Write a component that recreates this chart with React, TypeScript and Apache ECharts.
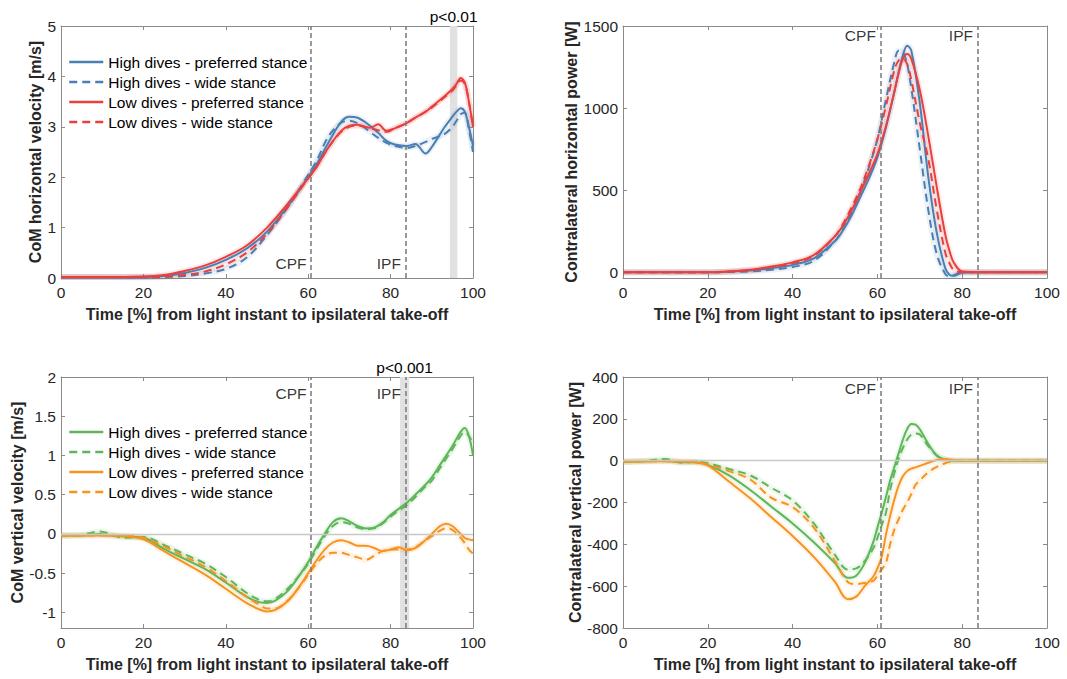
import React, { useEffect, useRef } from "react";
import * as echarts from "echarts";

// ---------- event markers ----------
const CPF = 60.7;
const IPF = 83.6;
const SIG_TOP = [94.4, 96.2];
const SIG_BOTTOM = [82.3, 84.5];

// ---------- CoM horizontal velocity ----------
const TL_T = [0, 10, 20, 25, 30, 35, 40, 45, 50, 55, 60, 62, 65, 68, 70, 72, 75, 77, 79, 81, 84, 86, 88.5, 90, 93, 95, 96, 97, 98, 99, 100];
const HV_HIGH_PREF = [0.02, 0.02, 0.02, 0.04, 0.1, 0.2, 0.36, 0.58, 0.92, 1.42, 2.0, 2.25, 2.7, 3.1, 3.2, 3.18, 3.02, 2.88, 2.72, 2.65, 2.62, 2.66, 2.47, 2.6, 2.98, 3.2, 3.3, 3.37, 3.3, 3.0, 2.62];
const HV_HIGH_WIDE = [0.02, 0.02, 0.01, 0.02, 0.04, 0.09, 0.18, 0.4, 0.85, 1.4, 2.05, 2.32, 2.82, 3.08, 3.12, 3.07, 2.9, 2.78, 2.68, 2.62, 2.58, 2.62, 2.7, 2.76, 2.85, 3.0, 3.12, 3.25, 3.28, 2.95, 2.5];
const HV_LOW_PREF = [0.02, 0.02, 0.03, 0.06, 0.14, 0.25, 0.42, 0.64, 1.0, 1.47, 1.98, 2.2, 2.6, 2.92, 3.02, 3.04, 2.98, 3.05, 2.92, 2.97, 3.08, 3.18, 3.3, 3.4, 3.6, 3.75, 3.85, 3.97, 3.88, 3.5, 3.0];
const HV_LOW_WIDE = [0.02, 0.02, 0.02, 0.03, 0.06, 0.13, 0.27, 0.5, 0.88, 1.4, 1.98, 2.2, 2.6, 2.9, 3.0, 3.02, 2.97, 2.93, 2.9, 2.97, 3.08, 3.18, 3.3, 3.38, 3.58, 3.72, 3.82, 3.92, 3.85, 3.5, 3.0];
const TL_Y_TICKS = [0, 1, 2, 3, 4, 5];

// ---------- Contralateral horizontal power ----------
const TR_T = [0, 10, 20, 25, 30, 35, 40, 45, 50, 52, 54, 56, 58, 60, 62, 64, 65, 66, 67, 68, 70, 72, 74, 76, 77, 78, 80, 85, 100];
const HP_HIGH_PREF = [0, 0, 0, 3, 10, 25, 45, 85, 190, 260, 350, 460, 570, 700, 880, 1100, 1220, 1320, 1380, 1350, 1030, 580, 240, 25, -15, -22, -3, 0, 0];
const HP_HIGH_WIDE = [0, 0, 0, 2, 5, 15, 32, 70, 190, 270, 370, 490, 640, 810, 1050, 1280, 1350, 1340, 1270, 1120, 750, 380, 110, -10, -25, -18, 0, 0, 0];
const HP_LOW_PREF = [0, 0, 0, 5, 15, 35, 60, 105, 220, 290, 380, 490, 600, 720, 890, 1100, 1210, 1300, 1330, 1300, 1110, 830, 520, 230, 130, 60, 5, 0, 0];
const HP_LOW_WIDE = [0, 0, 0, 4, 12, 30, 55, 100, 220, 300, 400, 510, 650, 810, 1010, 1230, 1290, 1300, 1270, 1170, 910, 690, 380, 120, 55, 15, 0, 0, 0];
const TR_Y_TICKS = [0, 500, 1000, 1500];

// ---------- CoM vertical velocity ----------
const BL_T = [0, 5, 9.5, 12, 15, 20, 25, 30, 35, 40, 45, 48, 50, 52, 55, 58, 60, 62, 64, 66, 68, 70, 72, 74, 76, 78, 80, 82, 84, 86, 88, 90, 92, 93.5, 95, 97, 98, 99, 100];
const VV_HIGH_PREF = [-0.02, -0.02, 0.0, -0.02, -0.03, -0.05, -0.19, -0.32, -0.45, -0.62, -0.8, -0.87, -0.88, -0.85, -0.73, -0.52, -0.36, -0.17, 0.0, 0.15, 0.2, 0.16, 0.1, 0.07, 0.08, 0.14, 0.24, 0.32, 0.4, 0.5, 0.6, 0.72, 0.88, 1.0, 1.12, 1.3, 1.35, 1.25, 1.0];
const VV_HIGH_WIDE = [-0.02, -0.01, 0.03, 0.0, -0.05, -0.04, -0.14, -0.26, -0.38, -0.55, -0.75, -0.84, -0.86, -0.83, -0.7, -0.52, -0.38, -0.2, -0.03, 0.1, 0.15, 0.13, 0.08, 0.06, 0.07, 0.13, 0.22, 0.3, 0.37, 0.47, 0.58, 0.68, 0.84, 0.96, 1.08, 1.25, 1.3, 1.25, 1.15];
const VV_LOW_PREF = [-0.02, -0.02, -0.02, -0.02, -0.03, -0.07, -0.22, -0.37, -0.52, -0.7, -0.88, -0.96, -0.99, -0.97, -0.86, -0.66, -0.5, -0.34, -0.2, -0.11, -0.08, -0.11, -0.15, -0.15, -0.18, -0.22, -0.2, -0.17, -0.21, -0.18, -0.1, 0.0, 0.1, 0.13, 0.1, 0.0, -0.05, -0.07, -0.08];
const VV_LOW_WIDE = [-0.02, -0.02, -0.02, -0.02, -0.02, -0.05, -0.16, -0.29, -0.42, -0.6, -0.8, -0.9, -0.95, -0.95, -0.85, -0.67, -0.52, -0.38, -0.28, -0.24, -0.24, -0.27, -0.3, -0.33, -0.28, -0.22, -0.2, -0.2, -0.2, -0.17, -0.1, -0.03, 0.04, 0.07, 0.05, -0.05, -0.12, -0.2, -0.25];
const BL_Y_TICKS = [-1, -0.5, 0, 0.5, 1, 1.5, 2];

// ---------- Contralateral vertical power ----------
const BR_T = [0, 5, 10, 14, 17, 20, 25, 30, 35, 40, 45, 50, 53, 55, 57, 59, 60, 61, 62, 63, 64, 65, 66, 67, 68, 69, 70, 72, 74, 76, 78, 80, 100];
const VP_HIGH_PREF = [-5, -3, 0, -8, -8, -20, -70, -140, -220, -300, -390, -490, -560, -550, -490, -390, -320, -250, -175, -95, -30, 35, 100, 150, 175, 172, 150, 80, 25, 5, 0, 0, 0];
const VP_HIGH_WIDE = [-5, -2, 8, -10, -5, -12, -40, -70, -130, -190, -300, -450, -520, -515, -480, -420, -370, -310, -250, -140, -60, 10, 60, 100, 125, 130, 125, 70, 25, 5, 0, 0, 0];
const VP_LOW_PREF = [-5, -3, -3, -5, -8, -22, -100, -180, -270, -360, -460, -580, -662, -650, -600, -555, -515, -460, -355, -265, -185, -120, -75, -50, -38, -32, -25, -10, 3, 8, 3, 0, 0];
const VP_LOW_WIDE = [-5, -3, -3, -3, -6, -18, -50, -90, -178, -222, -320, -480, -580, -590, -585, -575, -550, -520, -490, -400, -330, -280, -235, -200, -160, -115, -95, -55, -30, -12, -3, 0, 0];
const BR_Y_TICKS = [-800, -600, -400, -200, 0, 200, 400];

const NAMES = [
  "High dives - preferred stance",
  "High dives - wide stance",
  "Low dives - preferred stance",
  "Low dives - wide stance",
];
const X_NAME = "Time [%] from light instant to ipsilateral take-off";

const BLUE = "#4a7fb5";
const RED = "#e8403f";
const GREEN = "#5fb65a";
const ORANGE = "#f7931f";

const FONT = "'Liberation Sans', Arial, sans-serif";
const AXIS_COLOR = "#8a8a8a";
const TEXT_COLOR = "#262626";
const DASH = [8, 5];
const TICK_FS = 15.5;
const NAME_FS = 16;
const TEXT_FS = 15.5;

const GRIDS = [
  { left: 61, top: 26, width: 412, height: 252 },
  { left: 623, top: 26, width: 424, height: 252 },
  { left: 61, top: 377, width: 412, height: 251 },
  { left: 623, top: 377, width: 424, height: 251 },
];

const PANELS = [
  { t: TL_T, ys: [HV_HIGH_PREF, HV_HIGH_WIDE, HV_LOW_PREF, HV_LOW_WIDE], colors: [BLUE, RED], yName: "CoM horizontal velocity [m/s]", min: 0, max: 5, ticks: TL_Y_TICKS, nameGap: 17, labelY: 0.28, sig: SIG_TOP, sigText: "p<0.01", zero: false },
  { t: TR_T, ys: [HP_HIGH_PREF, HP_HIGH_WIDE, HP_LOW_PREF, HP_LOW_WIDE], colors: [BLUE, RED], yName: "Contralateral horizontal power [W]", min: -35, max: 1500, ticks: TR_Y_TICKS, nameGap: 43, labelY: 1445, sig: null, sigText: "", zero: false },
  { t: BL_T, ys: [VV_HIGH_PREF, VV_HIGH_WIDE, VV_LOW_PREF, VV_LOW_WIDE], colors: [GREEN, ORANGE], yName: "CoM vertical velocity [m/s]", min: -1.2, max: 2, ticks: BL_Y_TICKS, nameGap: 35, labelY: 1.79, sig: SIG_BOTTOM, sigText: "p<0.001", zero: true },
  { t: BR_T, ys: [VP_HIGH_PREF, VP_HIGH_WIDE, VP_LOW_PREF, VP_LOW_WIDE], colors: [GREEN, ORANGE], yName: "Contralateral vertical power [W]", min: -800, max: 400, ticks: BR_Y_TICKS, nameGap: 38, labelY: 346, sig: null, sigText: "", zero: true },
];

function buildOption() {
  const xAxis: any[] = [];
  const yAxis: any[] = [];
  const series: any[] = [];

  PANELS.forEach((p, g) => {
    const tick = { show: true, inside: true, length: 4, lineStyle: { color: AXIS_COLOR, width: 1 } };
    const line = { show: true, onZero: false, lineStyle: { color: AXIS_COLOR, width: 1 } };
    xAxis.push({
      gridIndex: g, type: "value", min: 0, max: 100, interval: 20, position: "bottom",
      axisLine: line, axisTick: tick, splitLine: { show: false },
      axisLabel: { color: TEXT_COLOR, fontSize: TICK_FS, margin: 6, fontFamily: FONT },
      name: X_NAME, nameLocation: "middle", nameGap: 28,
      nameTextStyle: { fontWeight: "bold", fontSize: NAME_FS, color: TEXT_COLOR, fontFamily: FONT },
    });
    xAxis.push({
      gridIndex: g, type: "value", min: 0, max: 100, interval: 20, position: "top",
      axisLine: line, axisTick: tick, axisLabel: { show: false }, splitLine: { show: false },
    });
    yAxis.push({
      gridIndex: g, type: "value", min: p.min, max: p.max, position: "left",
      axisLine: line,
      axisTick: { ...tick, customValues: p.ticks },
      axisLabel: { color: TEXT_COLOR, fontSize: TICK_FS, margin: 5, fontFamily: FONT, customValues: p.ticks, formatter: (v: number) => String(v) },
      splitLine: { show: false },
      name: p.yName, nameLocation: "middle", nameGap: p.nameGap,
      nameTextStyle: { fontWeight: "bold", fontSize: NAME_FS, color: TEXT_COLOR, fontFamily: FONT },
    });
    yAxis.push({
      gridIndex: g, type: "value", min: p.min, max: p.max, position: "right",
      axisLine: line,
      axisTick: { ...tick, customValues: p.ticks },
      axisLabel: { show: false, customValues: p.ticks },
      splitLine: { show: false },
    });

    const xi = g * 2;
    const yi = g * 2;

    const markLineData: any[] = [
      { xAxis: CPF, lineStyle: { color: "#7a7a7a", type: [5, 3], width: 1.5 } },
      { xAxis: IPF, lineStyle: { color: "#7a7a7a", type: [5, 3], width: 1.5 } },
    ];
    if (p.zero) markLineData.unshift({ yAxis: 0, lineStyle: { color: "#c8c8c8", type: "solid", width: 1.3 } });
    series.push({
      type: "scatter", xAxisIndex: xi, yAxisIndex: yi, z: 1, silent: true,
      symbolSize: 1, itemStyle: { color: "rgba(0,0,0,0)" },
      data: [{ name: "CPF", value: [CPF, p.labelY] }, { name: "IPF", value: [IPF, p.labelY] }],
      label: { show: true, position: "left", distance: 4, formatter: "{b}", fontSize: TEXT_FS, color: "#000", fontFamily: FONT },
      markLine: { silent: true, symbol: ["none", "none"], label: { show: false }, data: markLineData },
      markArea: p.sig ? {
        silent: true,
        itemStyle: { color: "#e1e1e1" },
        label: { show: true, position: "top", distance: 2, color: "#000", fontSize: TEXT_FS, fontFamily: FONT, formatter: p.sigText },
        data: [[{ xAxis: p.sig[0] }, { xAxis: p.sig[1] }]],
      } : undefined,
    });

    p.ys.forEach((vals, k) => {
      const color = p.colors[k < 2 ? 0 : 1];
      series.push({
        type: "line", xAxisIndex: xi, yAxisIndex: yi, z: 2, silent: true,
        symbol: "none", smooth: 0.35,
        lineStyle: { color, width: 6, opacity: 0.1 },
        data: p.t.map((x, i) => [x, vals[i]]),
      });
    });
    p.ys.forEach((vals, k) => {
      const color = p.colors[k < 2 ? 0 : 1];
      series.push({
        name: NAMES[k], type: "line", xAxisIndex: xi, yAxisIndex: yi, z: 3,
        symbol: "none", smooth: 0.35,
        lineStyle: { color, width: 2, type: k % 2 === 1 ? DASH : "solid" },
        itemStyle: { color },
        data: p.t.map((x, i) => [x, vals[i]]),
      });
    });
  });

  const legendFor = (colors: string[], top: number) => ({
    orient: "vertical", left: 68, top, padding: 0, itemWidth: 34, itemHeight: 14, itemGap: 4,
    textStyle: { fontSize: TEXT_FS, color: "#000", fontFamily: FONT },
    selectedMode: false,
    data: NAMES.map((n, k) => ({
      name: n,
      itemStyle: { color: "rgba(0,0,0,0)", borderWidth: 0, opacity: 0 },
      lineStyle: { color: colors[k < 2 ? 0 : 1], width: 2.5, type: k % 2 === 1 ? DASH : "solid", opacity: 1 },
    })),
  });

  return {
    animation: false,
    backgroundColor: "#ffffff",
    textStyle: { fontFamily: FONT },
    grid: GRIDS,
    xAxis, yAxis, series,
    legend: [legendFor([BLUE, RED], 54), legendFor([GREEN, ORANGE], 424)],
  };
}

export default function App() {
  const ref = useRef<HTMLDivElement>(null);
  useEffect(() => {
    document.body.style.margin = "0";
    if (!ref.current) return;
    const chart = echarts.init(ref.current, undefined, { renderer: "svg" });
    chart.setOption(buildOption() as any);
    return () => chart.dispose();
  }, []);
  return <div ref={ref} style={{ width: 1067, height: 679 }} />;
}
